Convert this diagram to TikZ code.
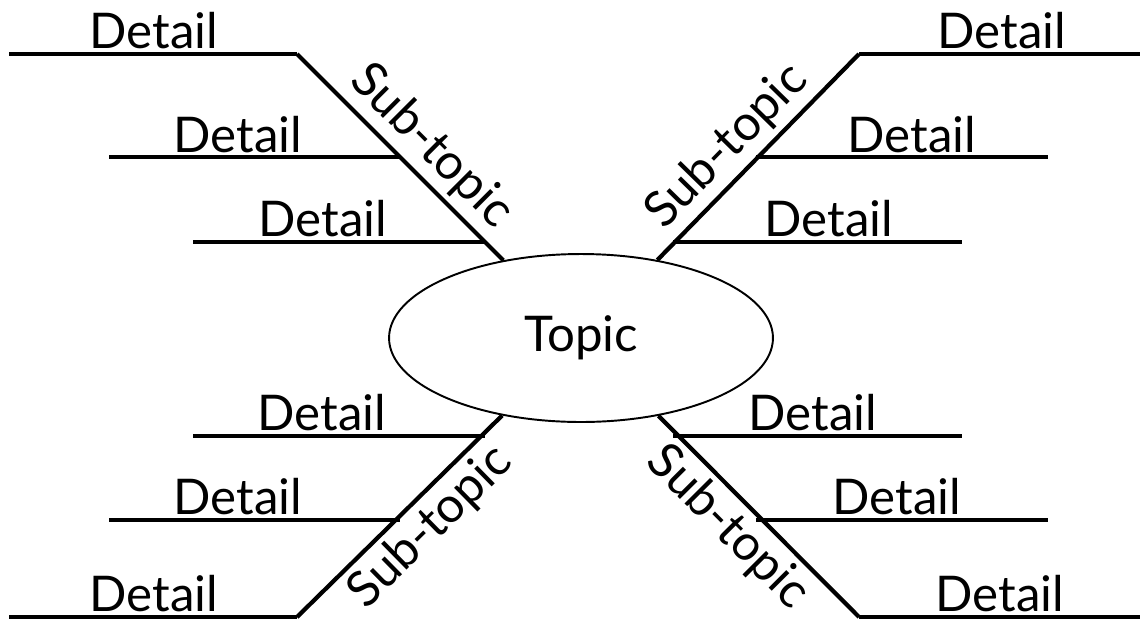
\documentclass[tikz,border=0pt]{standalone}
\usepackage{fontspec}
\setmainfont{Lato}
\usetikzlibrary{positioning,shapes.geometric}

\tikzset{
  txt/.style={font=\fontsize{28}{32}\selectfont, inner sep=0pt, anchor=base},
  subtxt/.style={font=\fontsize{28}{32}\selectfont, sloped, inner sep=3pt},
  branch/.style={line width=2.4pt},
  topicbox/.style={draw, ellipse, line width=1.1pt, minimum width=7.68cm,
    minimum height=3.36cm, font=\fontsize{28}{32}\selectfont},
}

\begin{document}
\begin{tikzpicture}[x=0.02cm, y=-0.02cm]
      \useasboundingbox (0,0) rectangle (1141,619);

      % Nodes
      \node[topicbox] (topic) at (581,338) {Topic};

      \coordinate (ul) at (297,54);
      \coordinate (ur) at (859,54);
      \coordinate (ll) at (297,617);
      \coordinate (lr) at (859,617);

      \node[txt] (dul1) at (154,48) {Detail};
      \node[txt] (dul2) at (238,152) {Detail};
      \node[txt] (dul3) at (323,236) {Detail};
      \node[txt] (dur1) at (1002,48) {Detail};
      \node[txt] (dur2) at (912,152) {Detail};
      \node[txt] (dur3) at (829,236) {Detail};
      \node[txt] (dll1) at (322,430) {Detail};
      \node[txt] (dll2) at (238,514) {Detail};
      \node[txt] (dll3) at (154,611) {Detail};
      \node[txt] (dlr1) at (813,430) {Detail};
      \node[txt] (dlr2) at (897,514) {Detail};
      \node[txt] (dlr3) at (1000,611) {Detail};

      % Sub-topic branches
      \draw[branch] (ul) -- node[subtxt, above, pos=0.55] (sul) {Sub-topic} (topic);
      \draw[branch] (topic) -- node[subtxt, above, pos=0.45] (sur) {Sub-topic} (ur);
      \draw[branch] (ll) -- node[subtxt, below, pos=0.55] (sll) {Sub-topic} (topic);
      \draw[branch] (topic) -- node[subtxt, below, pos=0.45] (slr) {Sub-topic} (lr);

      % Detail lines
      \draw[branch] (9,54) -- (ul);
      \draw[branch] (109,157) -- (400,157);
      \draw[branch] (193,242) -- (485,242);
      \draw[branch] (ur) -- (1140,54);
      \draw[branch] (756,157) -- (1048,157);
      \draw[branch] (673,242) -- (962,242);
      \draw[branch] (193,436) -- (485,436);
      \draw[branch] (109,520) -- (400,520);
      \draw[branch] (9,617) -- (ll);
      \draw[branch] (673,436) -- (962,436);
      \draw[branch] (756,520) -- (1048,520);
      \draw[branch] (lr) -- (1140,617);

  \end{tikzpicture}
\end{document}
